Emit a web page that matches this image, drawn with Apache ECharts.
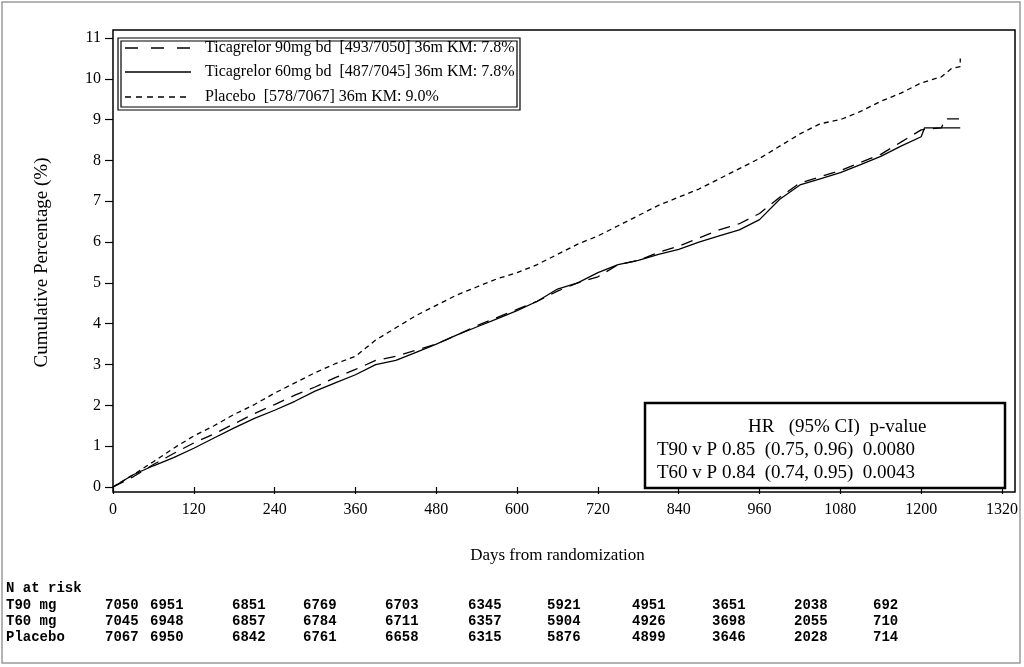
<!DOCTYPE html>
<html><head><meta charset="utf-8">
<script src="https://cdn.jsdelivr.net/npm/echarts@6/dist/echarts.min.js"></script>
<style>html,body{margin:0;padding:0;background:#fff}#c{width:1024px;height:667px}</style>
</head><body><div id="c"></div>
<script>
// ---- data ----
const seriesNames = ['Ticagrelor 90mg bd', 'Ticagrelor 60mg bd', 'Placebo'];
const legendLabels = ['Ticagrelor 90mg bd  [493/7050] 36m KM: 7.8%', 'Ticagrelor 60mg bd  [487/7045] 36m KM: 7.8%', 'Placebo  [578/7067] 36m KM: 9.0%'];
const xTicks = [0,120,240,360,480,600,720,840,960,1080,1200,1320];

const daysT90 = [0,30,60,90,120,150,180,210,240,270,300,330,360,390,420,450,480,510,540,570,600,630,660,690,720,750,780,810,840,870,900,930,960,990,1020,1050,1080,1110,1140,1170,1200,1230,1236,1258];
const pctT90  = [0,0.25,0.55,0.82,1.08,1.3,1.55,1.8,2.02,2.25,2.45,2.68,2.88,3.1,3.2,3.35,3.5,3.72,3.95,4.15,4.35,4.55,4.8,5.0,5.15,5.45,5.55,5.75,5.9,6.1,6.3,6.45,6.7,7.1,7.45,7.6,7.75,7.95,8.15,8.45,8.75,8.8,9.02,9.02];

const daysT60 = [0,30,60,90,120,150,180,210,240,270,300,330,360,390,420,450,480,510,540,570,600,630,660,690,720,750,780,810,840,870,900,930,960,990,1020,1050,1080,1110,1140,1170,1200,1205,1258];
const pctT60  = [0,0.3,0.52,0.72,0.95,1.2,1.45,1.68,1.88,2.1,2.35,2.55,2.75,3.0,3.1,3.3,3.5,3.72,3.92,4.12,4.32,4.55,4.85,5.0,5.25,5.45,5.55,5.7,5.82,6.0,6.15,6.3,6.55,7.05,7.4,7.55,7.7,7.9,8.1,8.35,8.58,8.8,8.8];

const daysPbo = [0,30,60,90,120,150,180,210,240,270,300,330,360,390,420,450,480,510,540,570,600,630,660,690,720,750,780,810,840,870,900,930,960,990,1020,1050,1080,1110,1140,1170,1200,1230,1245,1258,1258];
const pctPbo  = [0,0.3,0.62,0.95,1.25,1.5,1.78,2.02,2.3,2.55,2.8,3.02,3.2,3.6,3.9,4.2,4.45,4.7,4.9,5.1,5.25,5.45,5.7,5.95,6.15,6.4,6.65,6.9,7.1,7.3,7.55,7.8,8.05,8.35,8.65,8.9,9.0,9.2,9.45,9.65,9.9,10.05,10.25,10.3,10.5];

const hrHeader = 'HR   (95% CI)  p-value';
const hrRows = ['T90 v P 0.85  (0.75, 0.96)  0.0080', 'T60 v P 0.84  (0.74, 0.95)  0.0043'];

const riskTitle = 'N at risk';
const riskGroups = ['T90 mg', 'T60 mg', 'Placebo'];
const riskT90 = [7050,6951,6851,6769,6703,6345,5921,4951,3651,2038,692];
const riskT60 = [7045,6948,6857,6784,6711,6357,5904,4926,3698,2055,710];
const riskPbo = [7067,6950,6842,6761,6658,6315,5876,4899,3646,2028,714];

// ---- layout ----
const riskColX = [105,150,232,303,385,468,547,632,712,794,873];
const riskRowY = [605,621,637];
const legendRowY = [48,72,97];
const serif = 'Liberation Serif';
const mono = 'Liberation Mono';

const styles = [
  {type:[12,8], legendDash:[13,13], width:1.3},
  {type:'solid', legendDash:null, width:1.3},
  {type:[5,4], legendDash:[6,5], width:1.3}
];

const chart = echarts.init(document.getElementById('c'), null, {renderer:'canvas'});
const zip = (a,b) => a.map((v,i)=>[v,b[i]]);

const graphics = [];
// outer border
graphics.push({type:'rect', shape:{x:2,y:2,width:1018,height:661}, style:{fill:null, stroke:'#9a9a9a', lineWidth:1.5}, z:1});
// plot frame
graphics.push({type:'rect', shape:{x:113,y:30,width:902,height:462}, style:{fill:null, stroke:'#000', lineWidth:1.5}, z:10});
// legend double box
graphics.push({type:'rect', shape:{x:118,y:38,width:402,height:72}, style:{fill:'#fff', stroke:'#000', lineWidth:1.2}, z:11});
graphics.push({type:'rect', shape:{x:121,y:41,width:396,height:66}, style:{fill:null, stroke:'#000', lineWidth:1.2}, z:12});
legendLabels.forEach((t,i)=>{
  graphics.push({type:'line', shape:{x1:125,y1:legendRowY[i],x2:191,y2:legendRowY[i]},
    style:{stroke:'#000', lineWidth:1.3, lineDash:styles[i].legendDash}, z:13});
  graphics.push({type:'text', x:205, y:legendRowY[i], style:{text:t, font:'16px "'+serif+'"', fill:'#000', verticalAlign:'middle'}, z:13});
});
// HR box
graphics.push({type:'rect', shape:{x:645,y:403,width:360,height:85}, style:{fill:'#fff', stroke:'#000', lineWidth:2.5}, z:11});
graphics.push({type:'text', x:748, y:427, style:{text:hrHeader, font:'19px "'+serif+'"', fill:'#000', verticalAlign:'middle'}, z:12});
hrRows.forEach((t,i)=>graphics.push({type:'text', x:657, y:450+i*23, style:{text:t, font:'19px "'+serif+'"', fill:'#000', verticalAlign:'middle'}, z:12}));
// risk table
graphics.push({type:'text', x:6, y:588, style:{text:riskTitle, font:'bold 14px "'+mono+'"', fill:'#000', verticalAlign:'middle'}, z:12});
[riskT90, riskT60, riskPbo].forEach((row,r)=>{
  graphics.push({type:'text', x:6, y:riskRowY[r], style:{text:riskGroups[r], font:'bold 14px "'+mono+'"', fill:'#000', verticalAlign:'middle'}, z:12});
  row.forEach((v,i)=>graphics.push({type:'text', x:riskColX[i], y:riskRowY[r], style:{text:String(v), font:'bold 14px "'+mono+'"', fill:'#000', verticalAlign:'middle'}, z:12}));
});

const dataSets = [zip(daysT90,pctT90), zip(daysT60,pctT60), zip(daysPbo,pctPbo)];

chart.setOption({
  animation:false,
  backgroundColor:'#fff',
  grid:{left:113, right:22, top:38, bottom:180},
  xAxis:{type:'value', min:0, max:1320, interval:120, offset:5,
    axisLine:{show:false}, splitLine:{show:false},
    axisTick:{show:true, length:7, lineStyle:{color:'#000', width:1.2}},
    axisLabel:{margin:10, fontFamily:serif, fontSize:16, color:'#000', formatter:(v)=>xTicks.includes(v)?String(v):''},
    name:'Days from randomization', nameLocation:'middle', nameGap:55,
    nameTextStyle:{fontFamily:serif, fontSize:17, color:'#000'}
  },
  yAxis:{type:'value', min:0, max:11, interval:1,
    axisLine:{show:false}, splitLine:{show:false},
    axisTick:{show:true, length:8, lineStyle:{color:'#000', width:1.2}},
    axisLabel:{margin:12, fontFamily:serif, fontSize:16, color:'#000'},
    name:'Cumulative Percentage (%)', nameLocation:'middle', nameGap:61, nameRotate:90,
    nameTextStyle:{fontFamily:serif, fontSize:19, color:'#000'}
  },
  series: seriesNames.map((n,i)=>({
    name:n, type:'line', data:dataSets[i], showSymbol:false, symbol:'none',
    lineStyle:{color:'#000', width:styles[i].width, type:styles[i].type},
    itemStyle:{color:'#000'}, z:5, clip:false
  })),
  graphic:graphics
});
</script></body></html>
